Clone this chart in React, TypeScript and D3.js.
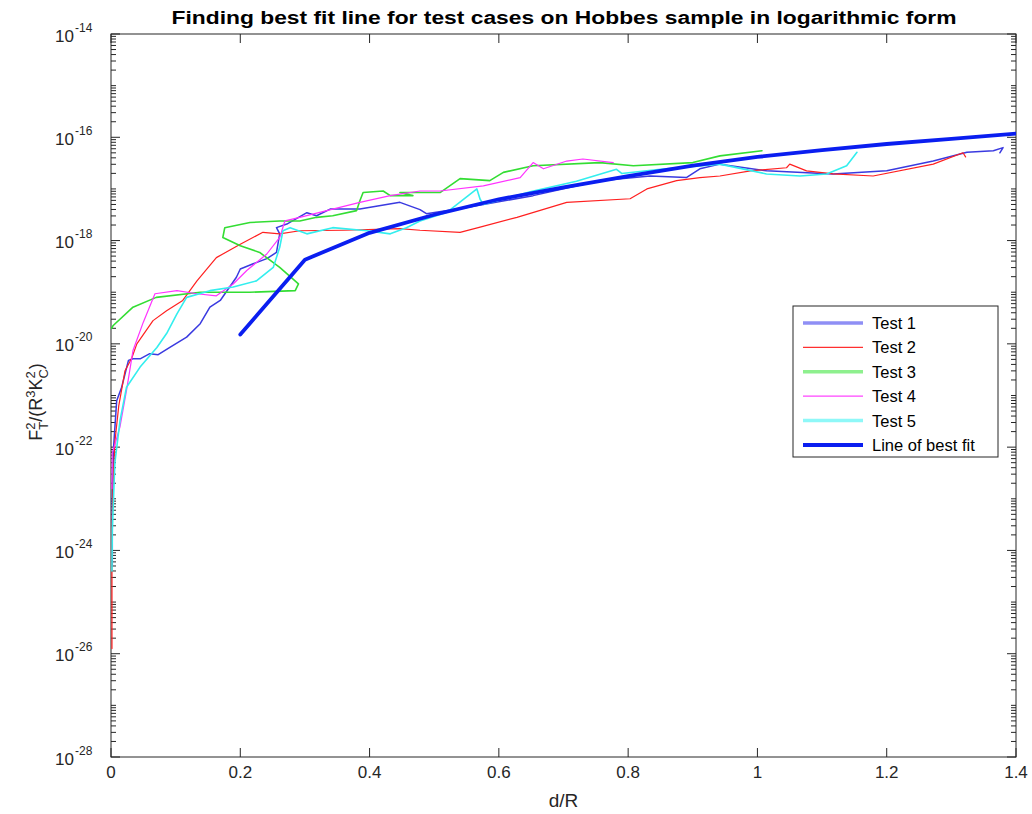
import React from "react";
import * as d3 from "d3";

// ---- data (x = d/R, y = log10 of F_T^2/(R^3 K_C^2)) ----
const test1X = [0.002, 0.002, 0.004, 0.0088, 0.0165, 0.027, 0.034, 0.045, 0.06, 0.073, 0.091, 0.117, 0.138, 0.153, 0.169, 0.194, 0.2, 0.22, 0.241, 0.256, 0.261, 0.256, 0.272, 0.303, 0.318, 0.339, 0.385, 0.447, 0.478, 0.488, 0.55, 0.653, 0.756, 0.834, 0.89, 0.911, 0.942, 1.014, 1.117, 1.2, 1.272, 1.324, 1.365, 1.38, 1.375];
const test1Y = [-24.3, -23.0, -22.0, -21.1, -20.84, -20.32, -20.29, -20.29, -20.19, -20.21, -20.07, -19.87, -19.61, -19.29, -19.16, -18.71, -18.55, -18.45, -18.35, -18.23, -17.87, -17.75, -17.68, -17.46, -17.52, -17.39, -17.39, -17.26, -17.4, -17.48, -17.36, -17.13, -16.84, -16.75, -16.78, -16.61, -16.52, -16.65, -16.71, -16.65, -16.46, -16.29, -16.26, -16.2, -16.3];

const test2X = [0.0015, 0.0015, 0.003, 0.006, 0.012, 0.0217, 0.032, 0.04, 0.065, 0.086, 0.111, 0.133, 0.163, 0.2, 0.235, 0.261, 0.292, 0.36, 0.447, 0.478, 0.54, 0.571, 0.628, 0.705, 0.803, 0.829, 0.875, 0.911, 0.942, 0.989, 1.045, 1.05, 1.076, 1.117, 1.179, 1.272, 1.318, 1.322];
const test2Y = [-25.9, -23.6, -22.8, -21.9, -21.2, -20.52, -20.28, -20.0, -19.55, -19.36, -19.16, -18.78, -18.33, -18.07, -17.84, -17.87, -17.81, -17.8, -17.77, -17.8, -17.84, -17.74, -17.55, -17.26, -17.19, -17.0, -16.84, -16.78, -16.75, -16.65, -16.59, -16.52, -16.65, -16.71, -16.75, -16.52, -16.3, -16.38];

const test3X = [0.001, 0.003, 0.034, 0.07, 0.138, 0.215, 0.285, 0.29, 0.261, 0.23, 0.2, 0.173, 0.176, 0.215, 0.261, 0.292, 0.318, 0.343, 0.38, 0.385, 0.39, 0.421, 0.432, 0.467, 0.447, 0.509, 0.54, 0.586, 0.607, 0.653, 0.756, 0.808, 0.9, 0.942, 1.007];
const test3Y = [-19.7, -19.65, -19.29, -19.1, -19.0, -19.0, -18.97, -18.84, -18.52, -18.23, -18.1, -17.94, -17.75, -17.65, -17.62, -17.62, -17.55, -17.52, -17.42, -17.23, -17.07, -17.04, -17.13, -17.13, -17.07, -17.07, -16.8, -16.84, -16.68, -16.55, -16.49, -16.55, -16.49, -16.36, -16.26];

const test4X = [0.0015, 0.002, 0.014, 0.024, 0.034, 0.05, 0.068, 0.102, 0.133, 0.163, 0.189, 0.21, 0.241, 0.261, 0.269, 0.292, 0.343, 0.385, 0.432, 0.478, 0.509, 0.576, 0.633, 0.653, 0.669, 0.705, 0.73, 0.777];
const test4Y = [-22.8, -22.12, -21.6, -20.9, -20.13, -19.58, -19.03, -18.97, -19.03, -19.07, -18.84, -18.58, -18.26, -17.94, -17.62, -17.55, -17.39, -17.26, -17.13, -17.04, -17.04, -16.94, -16.78, -16.49, -16.61, -16.46, -16.42, -16.49];

const test5X = [0.0015, 0.002, 0.006, 0.014, 0.024, 0.045, 0.071, 0.086, 0.102, 0.117, 0.153, 0.189, 0.225, 0.251, 0.261, 0.266, 0.277, 0.303, 0.343, 0.396, 0.432, 0.457, 0.478, 0.52, 0.566, 0.571, 0.576, 0.65, 0.72, 0.782, 0.79, 0.85, 0.942, 1.014, 1.066, 1.107, 1.138, 1.154];
const test5Y = [-24.4, -23.6, -22.3, -21.48, -20.84, -20.45, -20.07, -19.8, -19.42, -19.1, -18.97, -18.9, -18.78, -18.52, -18.13, -17.81, -17.75, -17.87, -17.75, -17.81, -17.87, -17.75, -17.62, -17.45, -17.0, -17.2, -17.3, -17.05, -16.85, -16.62, -16.7, -16.62, -16.52, -16.71, -16.75, -16.71, -16.55, -16.29];

const fitX = [0.2, 0.3, 0.4, 0.5, 0.6, 0.7, 0.8, 0.9, 1.0, 1.1, 1.2, 1.3, 1.4];
const fitY = [-19.82, -18.37, -17.85, -17.5, -17.2, -16.97, -16.75, -16.55, -16.38, -16.25, -16.13, -16.03, -15.93];

const xTicks = [0, 0.2, 0.4, 0.6, 0.8, 1, 1.2, 1.4];
const xTickLabels = ["0", "0.2", "0.4", "0.6", "0.8", "1", "1.2", "1.4"];
const yTickExps = [-14, -16, -18, -20, -22, -24, -26, -28];

const seriesNames = ["Test 1", "Test 2", "Test 3", "Test 4", "Test 5", "Line of best fit"];
const seriesColors = ["#3a3ae0", "#ff2020", "#33dd33", "#ff33ff", "#33eeee", "#0a1ef0"];
const legendColors = ["#8f8ff5", "#ff3030", "#8ef08e", "#ff44ff", "#8ff8f8", "#0a1ef0"];
const seriesWidths = [1.5, 1.2, 1.6, 1.2, 1.6, 3.8];
const legendWidths = [3.5, 1.2, 3.5, 1.2, 3.5, 3.8];

export default function App() {
  const W = 1032, H = 814;
  const L = 111, R = 1016, T = 34, B = 757;
  const x = d3.scaleLinear().domain([0, 1.4]).range([L, R]);
  const y = d3.scaleLinear().domain([-28, -14]).range([B, T]);

  const seriesX = [test1X, test2X, test3X, test4X, test5X, fitX];
  const seriesY = [test1Y, test2Y, test3Y, test4Y, test5Y, fitY];

  const paths = seriesX.map((xs, k) => {
    const pts: [number, number][] = xs.map((v, i) => [x(v), y(seriesY[k][i])]);
    return d3.line().curve(d3.curveLinear)(pts) || "";
  });

  const minorTicks: number[] = [];
  for (let e = -28; e < -14; e++) {
    for (let m = 2; m <= 9; m++) minorTicks.push(e + Math.log10(m));
    if (e % 2 !== 0) minorTicks.push(e);
  }

  const font = "'Liberation Sans', Arial, Helvetica, sans-serif";
  const legX = 793, legY = 306, legW = 205, legH = 151;
  const rowH = 24.4;

  return (
    <svg width={W} height={H} style={{ display: "block", position: "absolute", left: 0, top: 0 }} fontFamily={font}>
      <rect x={0} y={0} width={W} height={H} fill="#fff" />
      <defs>
        <clipPath id="plotclip">
          <rect x={L} y={T} width={R - L} height={B - T} />
        </clipPath>
      </defs>
      {/* axes box */}
      <rect x={L} y={T} width={R - L} height={B - T} fill="none" stroke="#262626" strokeWidth={1} />
      {/* x ticks */}
      {xTicks.map((t, i) => (
        <g key={"xt" + i}>
          <line x1={x(t)} x2={x(t)} y1={B} y2={B - 9} stroke="#262626" />
          <line x1={x(t)} x2={x(t)} y1={T} y2={T + 9} stroke="#262626" />
          <text x={x(t)} y={B + 21} textAnchor="middle" fontSize={17} fill="#262626">{xTickLabels[i]}</text>
        </g>
      ))}
      {/* y minor ticks */}
      {minorTicks.map((t, i) => (
        <g key={"ym" + i}>
          <line x1={L} x2={L + 5} y1={y(t)} y2={y(t)} stroke="#262626" />
          <line x1={R} x2={R - 5} y1={y(t)} y2={y(t)} stroke="#262626" />
        </g>
      ))}
      {/* y major ticks */}
      {yTickExps.map((e, i) => (
        <g key={"yt" + i}>
          <line x1={L} x2={L + 9} y1={y(e)} y2={y(e)} stroke="#262626" />
          <line x1={R} x2={R - 9} y1={y(e)} y2={y(e)} stroke="#262626" />
          <text x={74} y={y(e) + 7.5} textAnchor="end" fontSize={17} fill="#262626">10</text>
          <text x={75} y={y(e) - 2.5} textAnchor="start" fontSize={12} fill="#262626">{String(e)}</text>
        </g>
      ))}
      {/* data */}
      <g clipPath="url(#plotclip)" fill="none" strokeLinejoin="round" strokeLinecap="round">
        {paths.map((p, k) => (
          <path key={k} d={p} stroke={seriesColors[k]} strokeWidth={seriesWidths[k]} />
        ))}
      </g>
      {/* title */}
      <text x={564} y={24} textAnchor="middle" fontSize={18} fontWeight="bold" fill="#000" textLength={785} lengthAdjust="spacingAndGlyphs">
        Finding best fit line for test cases on Hobbes sample in logarithmic form
      </text>
      {/* x label */}
      <text x={(L + R) / 2} y={807} textAnchor="middle" fontSize={19} fill="#262626">d/R</text>
      {/* y label */}
      <g transform={`translate(42, 402) rotate(-90)`}>
        <text textAnchor="middle" fontSize={18} fill="#262626">
          <tspan>F</tspan>
          <tspan fontSize={13} dy={-7}>2</tspan>
          <tspan fontSize={13} dx={-7.2} dy={13}>T</tspan>
          <tspan dy={-6}>/(R</tspan>
          <tspan fontSize={13} dy={-7}>3</tspan>
          <tspan dy={7}>K</tspan>
          <tspan fontSize={13} dy={-7}>2</tspan>
          <tspan fontSize={13} dx={-7.2} dy={13}>C</tspan>
          <tspan dy={-6}>)</tspan>
        </text>
      </g>
      {/* legend */}
      <rect x={legX} y={legY} width={legW} height={legH} fill="#fff" stroke="#262626" strokeWidth={1} />
      {seriesNames.map((n, k) => {
        const cy = legY + 17 + k * rowH;
        return (
          <g key={"lg" + k}>
            <line x1={legX + 10} x2={legX + 70} y1={cy} y2={cy} stroke={legendColors[k]} strokeWidth={legendWidths[k]} />
            <text x={legX + 79} y={cy + 6} fontSize={16.5} fill="#000">{n}</text>
          </g>
        );
      })}
    </svg>
  );
}
